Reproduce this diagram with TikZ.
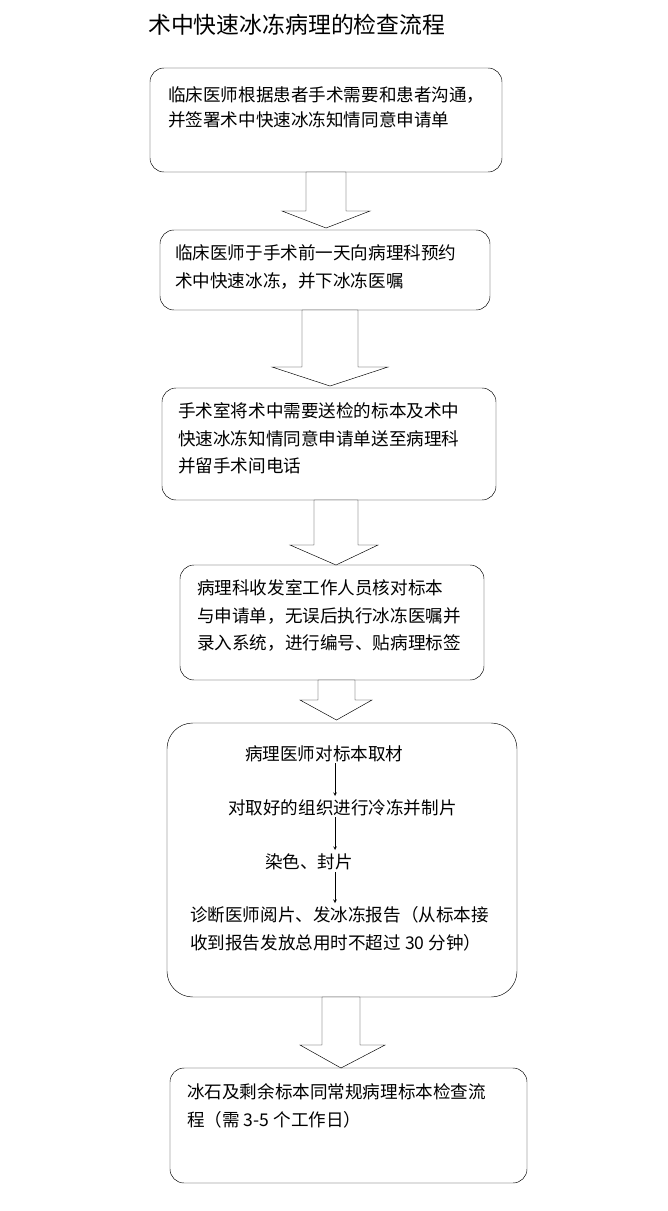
\documentclass[tikz,border=0pt]{standalone}
\usepackage{fontspec}
\setmainfont{Noto Sans CJK SC}
\usetikzlibrary{calc}

\newcommand{\blockarrow}[7]{% shaft x1 x2, top y, head start y, head x1 x2, tip y
  \draw[thin,fill=white] (#1,#3) -- (#2,#3) -- (#2,#4) -- (#6,#4) --
    ({(#1+#2)/2},#7) -- (#5,#4) -- (#1,#4) -- cycle;}

\begin{document}
\begin{tikzpicture}[x=0.03cm,y=-0.03cm,
                box/.style={draw,thin,rounded corners=12pt},
                txt/.style={anchor=west,inner sep=0pt,font=\fontsize{15}{18}\selectfont}]
	\useasboundingbox (0,0) rectangle (667,1211);
	\node[anchor=west,inner sep=0pt,font=\fontsize{19.5}{24}\selectfont] (title) at (148,25) {术中快速冰冻病理的检查流程};

	% boxes
	\draw[box] (150,68) rectangle (502,172);
	\draw[box] (160,230) rectangle (490,310);
	\draw[box] (162,388) rectangle (496,500);
	\draw[box] (180,565) rectangle (484,680);
	\draw[box,rounded corners=22pt] (167,723) rectangle (517,997);
	\draw[box] (170,1068) rectangle (527,1183);

	% texts
	\node[txt] (a1) at (168,95) {临床医师根据患者手术需要和患者沟通，};
	\node[txt] (a2) at (168,120) {并签署术中快速冰冻知情同意申请单};
	\node[txt] (b1) at (175,253) {临床医师于手术前一天向病理科预约};
	\node[txt] (b2) at (175,281) {术中快速冰冻，并下冰冻医嘱};
	\node[txt] (c1) at (178,411) {手术室将术中需要送检的标本及术中};
	\node[txt] (c2) at (178,439) {快速冰冻知情同意申请单送至病理科};
	\node[txt] (c3) at (178,466) {并留手术间电话};
	\node[txt] (d1) at (197,588) {病理科收发室工作人员核对标本};
	\node[txt] (d2) at (197,616) {与申请单，无误后执行冰冻医嘱并};
	\node[txt] (d3) at (197,643) {录入系统，进行编号、贴病理标签};
	\node[txt] (e1) at (245,754) {病理医师对标本取材};
	\node[txt] (e2) at (228,808) {对取好的组织进行冷冻并制片};
	\node[txt] (e3) at (265,862) {染色、封片};
	\node[txt] (e4) at (190,915) {诊断医师阅片、发冰冻报告（从标本接};
	\node[txt] (e5) at (190,943) {收到报告发放总用时不超过 30 分钟）};
	\node[txt] (f1) at (187,1092) {冰石及剩余标本同常规病理标本检查流};
	\node[txt] (f2) at (187,1120) {程（需 3-5 个工作日）};

	% small arrows inside box 5
	\coordinate (s1) at (335,763); \coordinate (t1) at (335,796);
	\coordinate (s2) at (335,817); \coordinate (t2) at (335,850);
	\coordinate (s3) at (335,872); \coordinate (t3) at (335,903);
	\foreach \s/\t in {s1/t1,s2/t2,s3/t3}
		\draw[->,thin,>=stealth] (\s) -- (\t);

	% block arrows
	\blockarrow{306}{346}{172}{211}{282}{370}{228}
	\blockarrow{302}{358}{310}{367}{272}{388}{386}
	\blockarrow{314}{358}{500}{545}{290}{378}{565}
	\blockarrow{318}{355}{680}{700}{300}{372}{720}
	\blockarrow{322}{360}{997}{1045}{300}{385}{1068}
\end{tikzpicture}
\end{document}
